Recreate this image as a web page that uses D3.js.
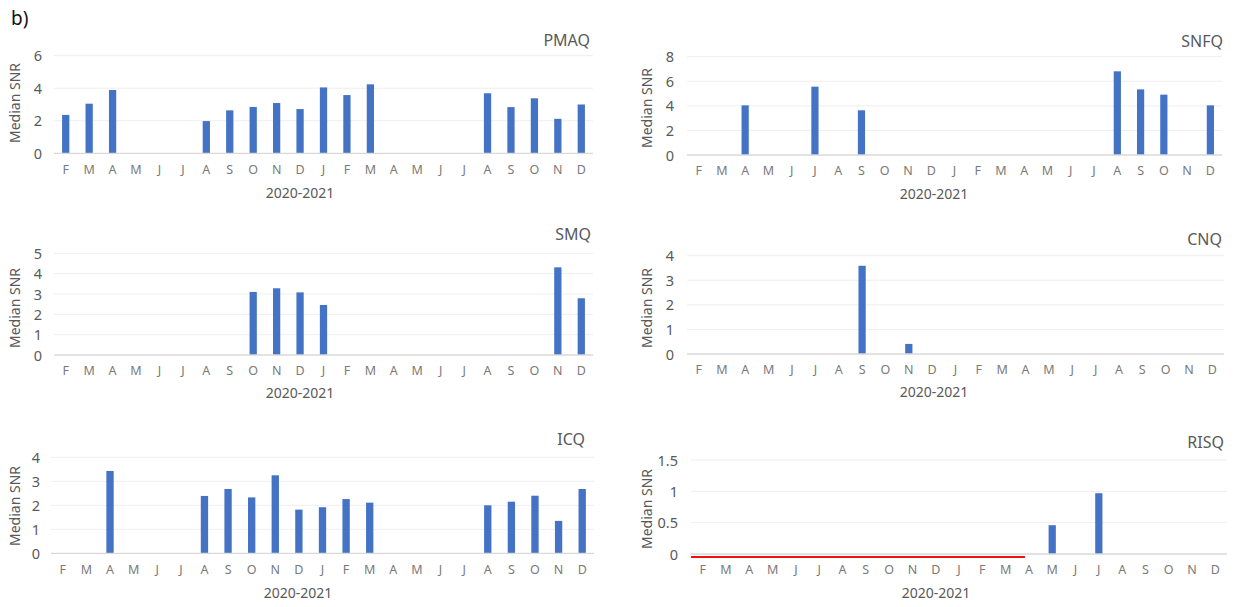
<!DOCTYPE html>
<html><head><meta charset="utf-8">
<script src="https://cdn.jsdelivr.net/npm/d3@7"></script>
<style>
html,body{margin:0;padding:0;background:#fff;}
svg{display:block;font-family:"Noto Sans","Open Sans",sans-serif;}
</style></head>
<body>
<svg id="chart" width="1235" height="607"></svg>
<script>
// ---- data ----
const months = ["F","M","A","M","J","J","A","S","O","N","D","J","F","M","A","M","J","J","A","S","O","N","D"];
const panelNames = ["PMAQ","SNFQ","SMQ","CNQ","ICQ","RISQ"];
const pmaq = [2.36,3.05,3.89,null,null,null,1.98,2.64,2.85,3.09,2.72,4.05,3.58,4.24,null,null,null,null,3.69,2.84,3.38,2.12,3.0];
const snfq = [null,null,4.04,null,null,5.56,null,3.64,null,null,null,null,null,null,null,null,null,null,6.81,5.34,4.91,null,4.04];
const smq  = [null,null,null,null,null,null,null,null,3.10,3.28,3.08,2.46,null,null,null,null,null,null,null,null,null,4.31,2.79];
const cnq  = [null,null,null,null,null,null,null,3.59,null,0.41,null,null,null,null,null,null,null,null,null,null,null,null,null];
const icq  = [null,null,3.43,null,null,null,2.39,2.68,2.33,3.25,1.82,1.92,2.26,2.11,null,null,null,null,2.0,2.15,2.40,1.35,2.68];
const risq = [null,null,null,null,null,null,null,null,null,null,null,null,null,null,null,0.46,null,0.97,null,null,null,null,null];
const pmaqTicks = [0,2,4,6];
const snfqTicks = [0,2,4,6,8];
const smqTicks  = [0,1,2,3,4,5];
const cnqTicks  = [0,1,2,3,4];
const icqTicks  = [0,1,2,3,4];
const risqTicks = [0,0.5,1,1.5];
const risqRedLine = {fromIndex:0, toIndex:14}; // red marker along the baseline, F 2020 -> A 2021
const yLabel = "Median SNR";
const xLabel = "2020-2021";
const panelLabel = "b)";

// ---- layout (positions/styles only) ----
const series = [pmaq,snfq,smq,cnq,icq,risq];
const ticks = [pmaqTicks,snfqTicks,smqTicks,cnqTicks,icqTicks,risqTicks];
const layout = [
  {x0:54,  x1:593,  yTop:55.7,  y0:153.3, titleX:590,  titleY:40,  ylabX:15,  ylabY:103, tickX:42,  xlabX:300, xlabY:193},
  {x0:687, x1:1222, yTop:56.7,  y0:155,   titleX:1223, titleY:41,  ylabX:647, ylabY:108, tickX:674, xlabX:934, xlabY:194},
  {x0:54,  x1:593,  yTop:253.3, y0:355,   titleX:591,  titleY:234, ylabX:15,  ylabY:308, tickX:42,  xlabX:300, xlabY:393},
  {x0:687, x1:1224, yTop:255.7, y0:354,   titleX:1222, titleY:239, ylabX:647, ylabY:308, tickX:674, xlabX:934, xlabY:392},
  {x0:51,  x1:594,  yTop:457.3, y0:553.3, titleX:585,  titleY:439, ylabX:15,  ylabY:506, tickX:40,  xlabX:298, xlabY:593},
  {x0:691, x1:1227, yTop:460,   y0:554,   titleX:1224, titleY:442, ylabX:647, ylabY:509, tickX:678, xlabX:936, xlabY:593}
];
const barColor = "#4472C4";

const svg = d3.select("#chart");

svg.append("text").attr("x",11).attr("y",25)
  .attr("font-size",19).attr("fill","#111").text(panelLabel);

series.forEach((vals,i)=>{
  const L = layout[i];
  const tk = ticks[i];
  const g = svg.append("g");
  const x = d3.scaleBand().domain(d3.range(months.length)).range([L.x0,L.x1])
    .paddingInner(0.69).paddingOuter(0.345);
  const y = d3.scaleLinear().domain([0,d3.max(tk)]).range([L.y0,L.yTop]);

  // gridlines
  g.selectAll("line.grid").data(tk.filter(t=>t!==0)).join("line")
    .attr("x1",L.x0).attr("x2",L.x1)
    .attr("y1",d=>y(d)).attr("y2",d=>y(d))
    .attr("stroke","#eeeeee").attr("stroke-width",1);

  // y axis
  const yAxis = d3.axisLeft(y).tickValues(tk).tickSize(0).tickPadding(0)
    .tickFormat(d=>String(d));
  const ya = g.append("g").attr("transform",`translate(${L.tickX},0)`).call(yAxis);
  ya.select(".domain").remove();
  ya.selectAll("text").attr("font-size",14.5).attr("fill","#595959")
    .attr("font-family","'Noto Sans',sans-serif").attr("dy","0.35em");

  // bars
  const data = vals.map((v,k)=>({k,v})).filter(d=>d.v!==null);
  g.selectAll("rect.bar").data(data).join("rect")
    .attr("x",d=>x(d.k)).attr("width",x.bandwidth())
    .attr("y",d=>y(d.v)).attr("height",d=>y(0)-y(d.v))
    .attr("fill",barColor);

  // baseline
  g.append("line").attr("x1",L.x0).attr("x2",L.x1)
    .attr("y1",y(0)).attr("y2",y(0))
    .attr("stroke","#d9d9d9").attr("stroke-width",1.3);

  // x axis
  const xAxis = d3.axisBottom(x).tickSize(0).tickPadding(0).tickFormat(k=>months[k]);
  const xa = g.append("g").attr("transform",`translate(0,${y(0)+16})`).call(xAxis);
  xa.select(".domain").remove();
  xa.selectAll("text").attr("font-size",12.5).attr("fill","#7a7a7a")
    .attr("font-family","'Noto Sans',sans-serif").attr("dy","0.35em");

  // red baseline marker for RISQ
  if (i===5) {
    g.append("line")
      .attr("x1",x.range()[0]).attr("x2",x(risqRedLine.toIndex)+x.bandwidth()/2-4)
      .attr("y1",y(0)+3).attr("y2",y(0)+3)
      .attr("stroke","#ee1111").attr("stroke-width",2);
  }

  // titles
  g.append("text").attr("x",L.titleX).attr("y",L.titleY).attr("dy","0.35em")
    .attr("text-anchor","end").attr("font-size",16).attr("fill","#595959")
    .text(panelNames[i]);
  g.append("text").attr("transform",`translate(${L.ylabX},${L.ylabY}) rotate(-90)`)
    .attr("text-anchor","middle").attr("dy","0.35em")
    .attr("font-size",14).attr("fill","#595959").text(yLabel);
  g.append("text").attr("x",L.xlabX).attr("y",L.xlabY).attr("dy","0.35em")
    .attr("text-anchor","middle").attr("font-size",14).attr("fill","#595959")
    .text(xLabel);
});
</script>
</body></html>
